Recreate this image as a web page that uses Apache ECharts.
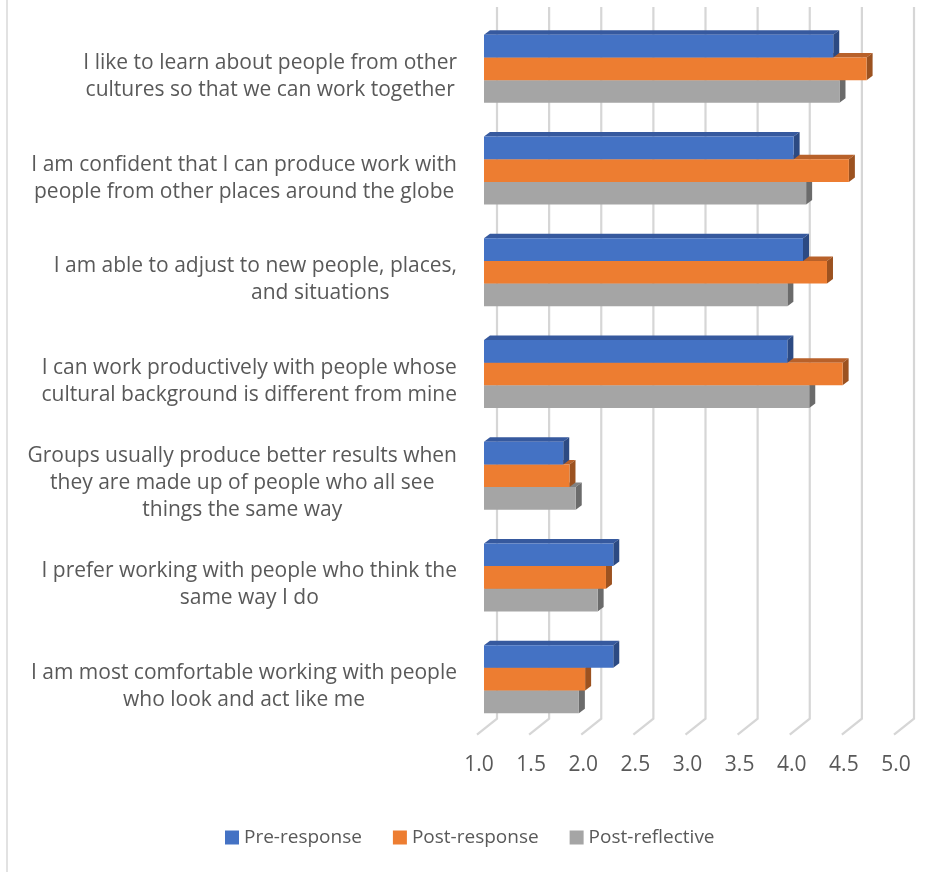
<!DOCTYPE html>
<html>
<head>
<meta charset="utf-8">
<script src="https://cdn.jsdelivr.net/npm/echarts@6/dist/echarts.min.js"></script>
<style>
html,body{margin:0;padding:0;background:#fff;}
#chart{width:952px;height:872px;}
</style>
</head>
<body>
<div id="chart"></div>
<script>
const categories = [
  "I like to learn about people from other\ncultures so that we can work together",
  "I am confident that I can produce work with\npeople from other places around the globe",
  "I am able to adjust to new people, places,\nand situations",
  "I can work productively with people whose\ncultural background is different from mine",
  "Groups usually produce better results when\nthey are made up of people who all see\nthings the same way",
  "I prefer working with people who think the\nsame way I do",
  "I am most comfortable working with people\nwho look and act like me"
];
const preResponse    = [4.35, 3.97, 4.06, 3.91, 1.76, 2.24, 2.24];
const postResponse   = [4.67, 4.50, 4.29, 4.44, 1.82, 2.17, 1.97];
const postReflective = [4.41, 4.09, 3.91, 4.12, 1.88, 2.09, 1.91];
const seriesNames = ["Pre-response", "Post-response", "Post-reflective"];
const xTicks = [1.0, 1.5, 2.0, 2.5, 3.0, 3.5, 4.0, 4.5, 5.0];

const FONT = "'Open Sans', 'Noto Sans', sans-serif";
const TEXT = '#595959';
const faces = [
  {front:'#4472C4', top:'#36599e', side:'#2c4a83'},
  {front:'#ED7D31', top:'#b8612a', side:'#9c5220'},
  {front:'#A5A5A5', top:'#828282', side:'#6b6b6b'}
];
const DX = 6, DY = 4.5, BAR_FRAC = 0.2228;
const X_MIN = xTicks[0], X_MAX = xTicks[xTicks.length - 1];
const CAT_FS = 21, CAT_LH = 27;

function barRenderer(idx) {
  return function (params, api) {
    const v = api.value(0), cat = api.value(1);
    const p0 = api.coord([X_MIN, cat]);
    const p1 = api.coord([v, cat]);
    const band = api.size([0, 1])[1];
    const h = band * BAR_FRAC;
    const y0 = p0[1] - 1.5 * h + idx * h;
    const x0 = p0[0], x1 = p1[0];
    const f = faces[idx];
    return {
      type: 'group',
      children: [
        {type:'polygon', shape:{points:[[x0,y0],[x0+DX,y0-DY],[x1+DX,y0-DY],[x1,y0]]}, style:{fill:f.top}},
        {type:'polygon', shape:{points:[[x1,y0],[x1+DX,y0-DY],[x1+DX,y0+h-DY],[x1,y0+h]]}, style:{fill:f.side}},
        {type:'rect', shape:{x:x0, y:y0, width:x1-x0, height:h}, style:{fill:f.front}}
      ]
    };
  };
}

function gridRenderer(params, api) {
  const x = api.coord([api.value(0), 0])[0];
  const cs = params.coordSys;
  const bottom = cs.y + cs.height;
  return {
    type: 'polyline',
    shape: {points: [[x + 13, cs.y - 11], [x + 13, bottom - 11.4], [x - 7, bottom + 4.6]]},
    style: {stroke: '#d6d6d6', lineWidth: 2.2, fill: null}
  };
}

const chart = echarts.init(document.getElementById('chart'), null, {renderer: 'canvas'});
const valuesBySeries = [preResponse, postResponse, postReflective];

const richBase = {fontSize: CAT_FS, lineHeight: CAT_LH, color: TEXT, fontFamily: FONT, align: 'center'};

const option = {
  animation: false,
  backgroundColor: '#fff',
  textStyle: {fontFamily: FONT},
  graphic: [{
    type: 'rect', z: 0,
    shape: {x: 7, y: -10, width: 1200, height: 1200},
    style: {fill: null, stroke: '#d9d9d9', lineWidth: 1.5}
  }],
  grid: {left: 484, right: 51, top: 18, height: 712},
  legend: {
    data: seriesNames,
    bottom: 20,
    left: 220,
    icon: 'rect',
    itemWidth: 14, itemHeight: 14, itemGap: 31,
    textStyle: {fontSize: 19, color: TEXT, fontFamily: FONT}
  },
  xAxis: {
    type: 'value', min: X_MIN, max: X_MAX, interval: 0.5,
    axisLine: {show: false}, axisTick: {show: false}, splitLine: {show: false},
    axisLabel: {
      fontSize: 21, color: TEXT, margin: 25, padding: [0, 10, 0, 0],
      formatter: v => v.toFixed(1), fontFamily: FONT
    }
  },
  yAxis: {
    type: 'category', data: categories, inverse: true,
    axisLine: {show: false}, axisTick: {show: false}, splitLine: {show: false},
    axisLabel: {
      fontSize: CAT_FS, color: TEXT, align: 'right', margin: 27, lineHeight: CAT_LH,
      fontFamily: FONT, padding: [15, 0, 0, 0],
      formatter: function (value, index) {
        return value.split('\n').map(function (l, li) {
          return (index === 2 && li === 1) ? '{s|' + l + '}' : '{c|' + l + '}';
        }).join('\n');
      },
      rich: {
        c: richBase,
        s: Object.assign({}, richBase, {padding: [0, 0, 0, 130]})
      }
    }
  },
  series: [
    {
      type: 'custom', name: 'grid', z: 1, silent: true,
      data: xTicks.map(t => [t, 0]),
      encode: {x: 0, y: 1},
      renderItem: gridRenderer
    }
  ].concat(seriesNames.map((name, idx) => ({
    type: 'custom', name: name, z: 10 - idx,
    itemStyle: {color: faces[idx].front},
    data: valuesBySeries[idx].map((v, i) => [v, i]),
    encode: {x: 0, y: 1},
    renderItem: barRenderer(idx)
  })))
};
chart.setOption(option);
</script>
</body>
</html>
